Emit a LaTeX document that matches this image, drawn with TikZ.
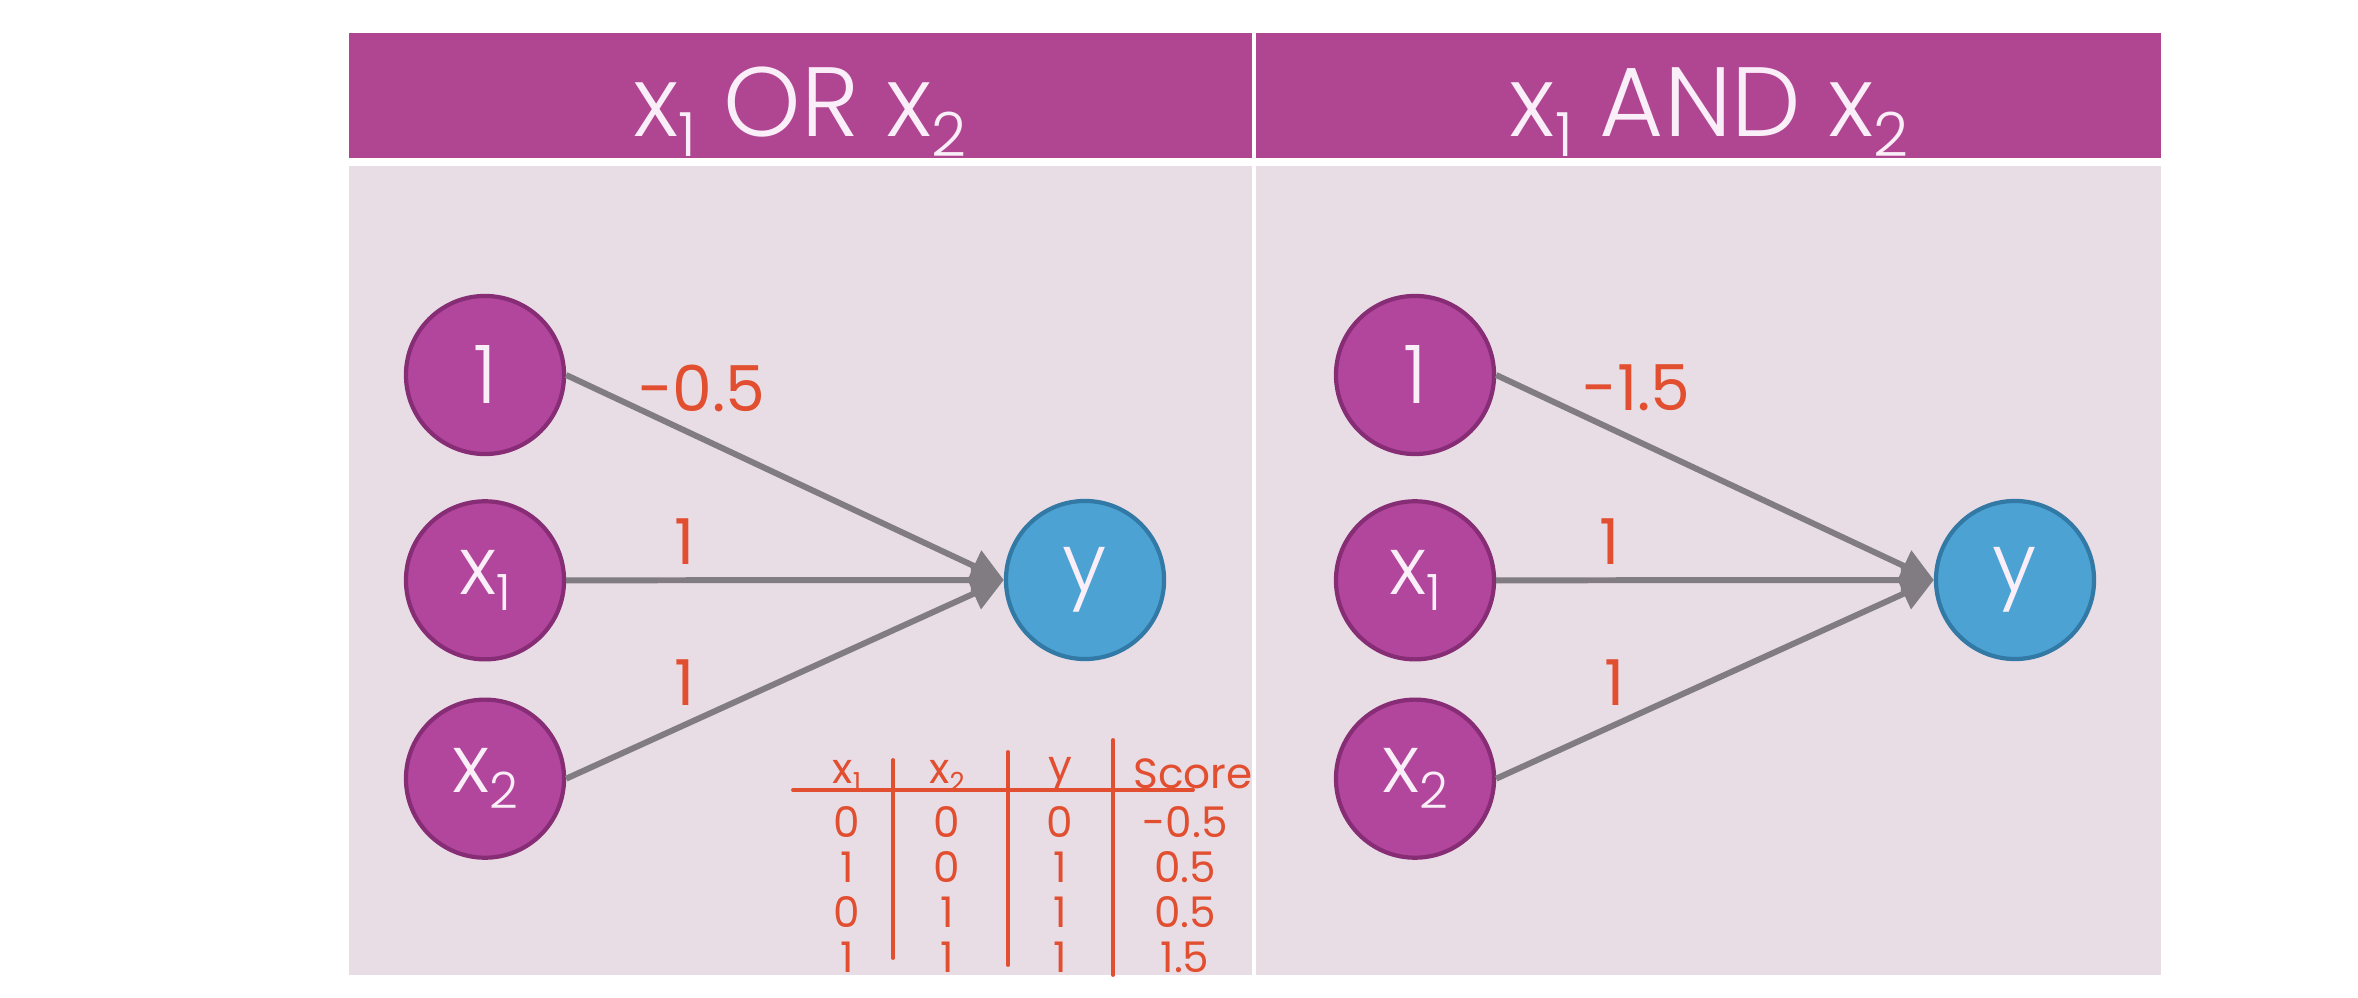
\documentclass[tikz,border=0pt]{standalone}
\usepackage{fontspec}
\setmainfont{Poppins Light}
\newfontfamily\handfont{Poppins}
\usetikzlibrary{positioning,arrows.meta}
\definecolor{barmag}{RGB}{176,70,146}
\definecolor{panelbg}{RGB}{233,221,229}
\definecolor{nodemag}{RGB}{178,70,156}
\definecolor{nodeedge}{RGB}{135,45,118}
\definecolor{outblue}{RGB}{76,162,210}
\definecolor{outedge}{RGB}{50,122,165}
\definecolor{wgray}{RGB}{128,124,130}
\definecolor{penred}{RGB}{226,78,48}
\definecolor{softwhite}{RGB}{250,238,248}
\newcommand{\idx}[1]{\raisebox{-0.2em}{\scalebox{0.62}{#1}}}
\tikzset{
  neuron/.style={circle,draw=nodeedge,line width=1.2pt,fill=nodemag,minimum size=1.58cm,inner sep=0pt,text=softwhite,font=\fontsize{23}{26}\selectfont},
  outneuron/.style={neuron,draw=outedge,fill=outblue},
  conn/.style={->,draw=wgray,line width=1.7pt},
  wlabel/.style={text=penred,inner sep=0pt,font=\handfont\fontsize{18}{20}\selectfont},
  tcell/.style={text=penred,inner sep=0pt,font=\handfont\fontsize{12}{14}\selectfont},
  bartitle/.style={text=softwhite,inner sep=0pt,anchor=base,font=\fontsize{28}{32}\selectfont},
  penline/.style={draw=penred,line width=1.1pt,line cap=round}
}

\begin{document}
\begin{tikzpicture}[x=0.01cm,y=-0.01cm,>={Triangle[length=3.3mm,width=3.3mm]}]
\useasboundingbox (0,0) rectangle (2358,998);
\fill[white] (0,0) rectangle (2358,998);
% panels
\fill[barmag] (349,33) rectangle (1252,158);
\fill[panelbg] (349,166) rectangle (1252,975);
\fill[barmag] (1256,33) rectangle (2161,158);
\fill[panelbg] (1256,166) rectangle (2161,975);
\node[bartitle] (orhead) at (800,137) {x\idx{1} OR x\idx{2}};
\node[bartitle] (andhead) at (1709,137) {x\idx{1} AND x\idx{2}};

% OR perceptron
\node[neuron] (biasL) at (485,375) {1};
\node[neuron,below=0.43cm of biasL] (xaL) {x\idx{1}};
\node[neuron,below=0.36cm of xaL] (xbL) {x\idx{2}};
\node[outneuron] (yL) at (1085,580) {y};
\draw[conn] (biasL.east) -- (yL.west) node[wlabel,pos=0.31,above=0.24cm] {-0.5};
\draw[conn] (xaL.east) -- (yL.west) node[wlabel,pos=0.27,above=0.13cm] {1};
\draw[conn] (xbL.east) -- (yL.west) node[wlabel,pos=0.27,above=0.17cm] {1};

% AND perceptron
\node[neuron] (biasR) at (1415,375) {1};
\node[neuron,below=0.43cm of biasR] (xaR) {x\idx{1}};
\node[neuron,below=0.36cm of xaR] (xbR) {x\idx{2}};
\node[outneuron] (yR) at (2015,580) {y};
\draw[conn] (biasR.east) -- (yR.west) node[wlabel,pos=0.32,above=0.27cm] {-1.5};
\draw[conn] (xaR.east) -- (yR.west) node[wlabel,pos=0.26,above=0.13cm] {1};
\draw[conn] (xbR.east) -- (yR.west) node[wlabel,pos=0.27,above=0.17cm] {1};

% truth table for OR
\draw[penline] (793,790) -- (1193,790);
\draw[penline] (893,760) -- (893,958);
\draw[penline] (1008,752) -- (1008,965);
\draw[penline] (1113,740) -- (1113,975);
\node[tcell] (hxa) at (847,776) {x\idx{1}};
\node[tcell] (hxb) at (947,776) {x\idx{2}};
\node[tcell] (hy) at (1060,774) {y};
\node[tcell] (hscore) at (1193,774) {Score};
\foreach \a/\b/\c/\s [count=\r] in {0/0/0/-0.5, 1/0/1/0.5, 0/1/1/0.5, 1/1/1/1.5} {
  \node[tcell] (a\r) at (847,777+45*\r) {\a};
  \node[tcell] (b\r) at (947,777+45*\r) {\b};
  \node[tcell] (c\r) at (1060,777+45*\r) {\c};
  \node[tcell] (s\r) at (1185,777+45*\r) {\s};
}
\end{tikzpicture}
\end{document}
